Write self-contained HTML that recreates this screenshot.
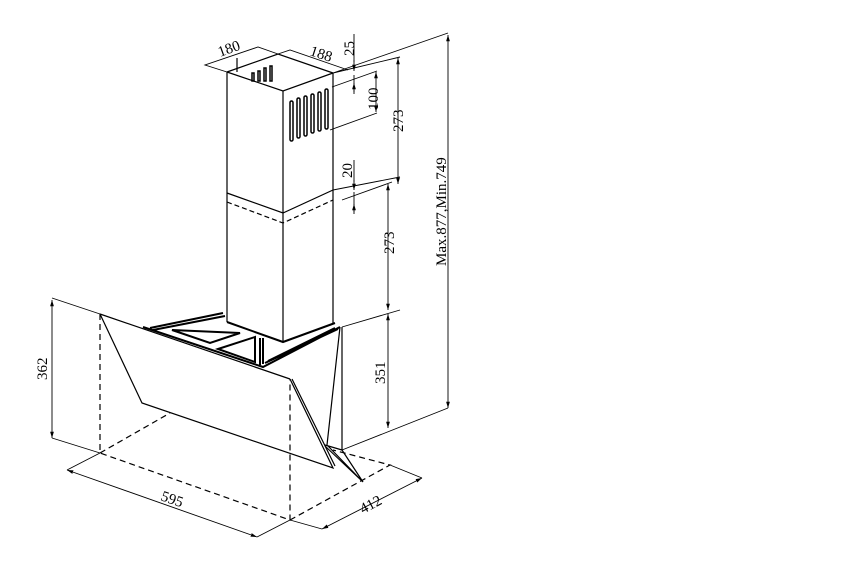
<!DOCTYPE html>
<html><head><style>body{margin:0;background:#fff}svg{display:block}</style></head><body>
<svg width="864" height="571" viewBox="0 0 864 571" xmlns="http://www.w3.org/2000/svg" font-family="Liberation Serif, serif" font-size="15">
<defs><marker id="a" viewBox="0 0 10 10" refX="10" refY="5" markerWidth="7" markerHeight="7" orient="auto-start-reverse"><path d="M0,2 L10,5 L0,8z" fill="#000"/></marker></defs>
<g stroke="#000" stroke-width="1.2" fill="none">
<!-- chimney upper -->
<path d="M227,72 L283,91 L333,73 M227,72 L278,54 L333,73"/>
<path d="M227,72 V322 M283,91 V342 M333,73 V324 M237,72 V58"/>
<path d="M227,193 L283,213 L333,190"/>
<path d="M227,202 L283,223 L333,200" stroke-dasharray="5,3"/>
<!-- vents -->
<g stroke-width="1.5">
<rect x="290" y="101" width="3" height="40" rx="1.5"/><rect x="297" y="98" width="3" height="40" rx="1.5"/><rect x="304" y="96" width="3" height="40" rx="1.5"/><rect x="311" y="94" width="3" height="39" rx="1.5"/><rect x="318" y="92" width="3" height="39" rx="1.5"/><rect x="325" y="89" width="3" height="40" rx="1.5"/>
<rect x="252" y="73" width="2" height="8"/><rect x="258" y="71" width="2" height="10"/><rect x="264" y="68" width="2" height="13"/><rect x="270" y="66" width="2" height="15"/>
</g>
<!-- hood -->
<path d="M100,314 L290,379 M100,314 L142,403 L333,468 L290,379 M292,379 L335,466"/>
<path d="M340,327 L327,445 M342,327 V450 M325,445 L342,450 M325,446 L363,482 L342,450 M328,446 L361,480"/>
<!-- brackets -->
<g stroke-width="2">
<path d="M143,327 L263,367 L340,327 M150,328 L223,313 M153,330 L225,316 M265,363 L338,329 M268,361 L335,328"/>
<path d="M227,322 L283,342 L335,323"/>
<path d="M172,330 L240,333 L210,343 Z M218,349 L255,337 L255,362 Z M260,338 V365 M263,338 V364"/>
</g>
<!-- dashed -->
<path d="M100,314 V453 L290,520 V379 M100,453 L170,413 M290,520 L390,465 L333,450" stroke-dasharray="6,4"/>
<!-- extension lines -->
<g stroke-width="0.9">
<path d="M52,298 L100,314 M52,438 L100,453 M67,470 L100,453 M257,537 L290,520 M322,529 L290,520 M422,478 L390,465"/>
<path d="M342,450 L448,408 M333,73 L448,33 M333,73 L400,57 M333,190 L400,177 M342,200 L392,182 M342,327 L400,310 M332,87 L377,71 M330,130 L377,113"/>
<path d="M354,34 V62 M354,75 V92 M354,160 V182 M354,192 V212"/>
<path d="M227,72 L205,65 L258,47 L278,54 M278,54 L290,50 L348,70"/>
</g>
<g stroke-width="0.9">
<path d="M52,300 V438" marker-start="url(#a)" marker-end="url(#a)"/>
<path d="M67,470 L257,537" marker-start="url(#a)" marker-end="url(#a)"/>
<path d="M322,529 L422,478" marker-start="url(#a)" marker-end="url(#a)"/>
<path d="M448,35 V408" marker-start="url(#a)" marker-end="url(#a)"/>
<path d="M398,58 V184" marker-start="url(#a)" marker-end="url(#a)"/>
<path d="M388,184 V310" marker-start="url(#a)" marker-end="url(#a)"/>
<path d="M388,314 V428" marker-start="url(#a)" marker-end="url(#a)"/>
<path d="M376,72 V112" marker-start="url(#a)" marker-end="url(#a)"/>
<path d="M354,60 L354,71" marker-end="url(#a)"/><path d="M354,94 L354,83" marker-end="url(#a)"/>
<path d="M354,180 L354,190" marker-end="url(#a)"/><path d="M354,214 L354,204" marker-end="url(#a)"/>
</g>
</g>
<g fill="#000">
<text transform="translate(47,380) rotate(-90)">362</text>
<text transform="translate(385,384) rotate(-90)">351</text>
<text transform="translate(394,254) rotate(-90)">273</text>
<text transform="translate(403,132) rotate(-90)">273</text>
<text transform="translate(378,110) rotate(-90)">100</text>
<text transform="translate(354,56) rotate(-90)">25</text>
<text transform="translate(352,178) rotate(-90)">20</text>
<text transform="translate(446,266) rotate(-90)">Max.877,Min.749</text>
<text transform="translate(160,500) rotate(19)">595</text>
<text transform="translate(363,514) rotate(-28)">412</text>
<text transform="translate(220,57) rotate(-20)">180</text>
<text transform="translate(309,55) rotate(18)">188</text>
</g>
</svg>
</body></html>
